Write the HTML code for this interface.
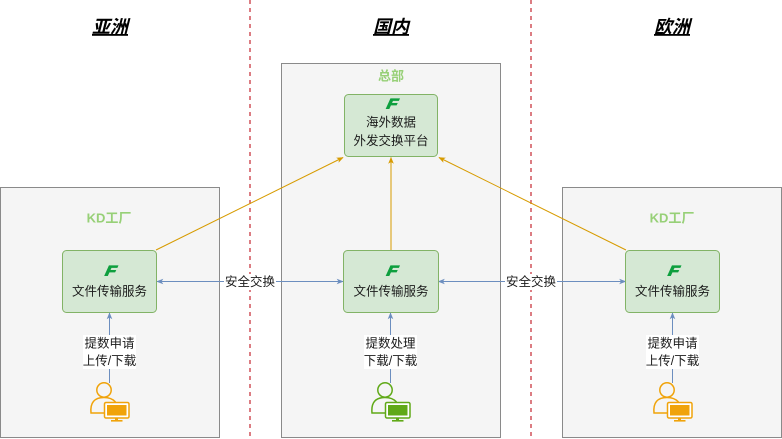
<!DOCTYPE html>
<html><head><meta charset="utf-8"><style>
html,body{margin:0;padding:0;background:#fff;}
svg{display:block;}
text{font-family:"Liberation Sans","Noto Sans CJK SC",sans-serif;}
</style></head><body>
<svg width="782" height="439" viewBox="0 0 782 439" xmlns="http://www.w3.org/2000/svg">
<defs>
<marker id="ab" viewBox="0 0 10 10" refX="9" refY="5" markerWidth="7" markerHeight="7" orient="auto-start-reverse" markerUnits="userSpaceOnUse"><path d="M0,1 L10,5 L0,9 L2.5,5 Z" fill="#6c8ebf"/></marker>
<marker id="ao" viewBox="0 0 10 10" refX="9" refY="5" markerWidth="7" markerHeight="7" orient="auto" markerUnits="userSpaceOnUse"><path d="M0,1 L10,5 L0,9 L2.5,5 Z" fill="#d79b00"/></marker>
<g id="flogo">
<text x="0" y="0" font-size="14" font-weight="bold" font-style="italic" fill="#0e9f3e" stroke="#0e9f3e" stroke-width="0.9" text-anchor="middle" transform="skewX(-12) scale(1.25,1)">F</text>
</g>
</defs>

<!-- titles -->
<g font-size="18" font-weight="bold" font-style="italic" text-decoration="underline" text-anchor="middle" fill="#000">
<text x="110" y="33">亚洲</text>
<text x="391" y="33">国内</text>
<text x="672" y="33">欧洲</text>
</g>

<!-- containers -->
<rect x="0.5" y="187.5" width="219" height="250" fill="#f5f5f5" stroke="#8a8a8a"/>
<rect x="281.5" y="63.5" width="219" height="374" fill="#f5f5f5" stroke="#8a8a8a"/>
<rect x="562.5" y="187.5" width="219" height="250" fill="#f5f5f5" stroke="#8a8a8a"/>

<!-- dashed separators -->
<line x1="250" y1="0" x2="250" y2="439" stroke="#d0525a" stroke-width="1.5" stroke-dasharray="4 4"/>
<line x1="531" y1="0" x2="531" y2="439" stroke="#d0525a" stroke-width="1.5" stroke-dasharray="4 4"/>

<!-- container titles -->
<g font-size="13" font-weight="bold" fill="#97d077" text-anchor="middle">
<text x="391" y="80.5">总部</text>
<text x="109" y="222.5">KD工厂</text>
<text x="672" y="222.5">KD工厂</text>
</g>

<!-- orange connectors -->
<line x1="156" y1="250" x2="343" y2="157.5" stroke="#d79b00" stroke-width="1" marker-end="url(#ao)"/>
<line x1="391" y1="250" x2="391" y2="157.5" stroke="#d79b00" stroke-width="1" marker-end="url(#ao)"/>
<line x1="626" y1="250" x2="439" y2="157.5" stroke="#d79b00" stroke-width="1" marker-end="url(#ao)"/>

<!-- blue horizontal connectors -->
<line x1="157" y1="281.5" x2="343" y2="281.5" stroke="#6c8ebf" stroke-width="1" marker-start="url(#ab)" marker-end="url(#ab)"/>
<line x1="438.5" y1="281.5" x2="625.5" y2="281.5" stroke="#6c8ebf" stroke-width="1" marker-start="url(#ab)" marker-end="url(#ab)"/>
<rect x="224" y="274" width="52" height="16" fill="#fff"/>
<rect x="505" y="274" width="52" height="16" fill="#fff"/>
<g font-size="12.5" fill="#1a1a1a" text-anchor="middle">
<text x="250" y="286">安全交换</text>
<text x="531" y="286">安全交换</text>
</g>

<!-- nodes -->
<g fill="#d5e8d4" stroke="#82b366" stroke-width="1">
<rect x="344.5" y="94.5" width="93" height="62" rx="4"/>
<rect x="62.5" y="250.5" width="94" height="62" rx="4"/>
<rect x="343.5" y="250.5" width="95" height="62" rx="4"/>
<rect x="625.5" y="250.5" width="94" height="62" rx="4"/>
</g>
<use href="#flogo" x="0" y="0" transform="translate(391.5,108.5)"/>
<use href="#flogo" transform="translate(110,275.5)"/>
<use href="#flogo" transform="translate(391.5,275.5)"/>
<use href="#flogo" transform="translate(673,275.5)"/>
<g font-size="12.5" fill="#1a1a1a" text-anchor="middle">
<text x="391" y="126.5">海外数据</text>
<text x="391" y="145">外发交换平台</text>
<text x="109.5" y="295.5">文件传输服务</text>
<text x="391" y="295.5">文件传输服务</text>
<text x="672.5" y="295.5">文件传输服务</text>
</g>

<!-- vertical blue connectors -->
<line x1="109.5" y1="383" x2="109.5" y2="313" stroke="#6c8ebf" stroke-width="1" marker-end="url(#ab)"/>
<line x1="390.5" y1="383" x2="390.5" y2="313" stroke="#6c8ebf" stroke-width="1" marker-end="url(#ab)"/>
<line x1="672.5" y1="383" x2="672.5" y2="313" stroke="#6c8ebf" stroke-width="1" marker-end="url(#ab)"/>
<g fill="#fff">
<rect x="83" y="335" width="53" height="34"/>
<rect x="364" y="335" width="53" height="34"/>
<rect x="646" y="335" width="53" height="34"/>
</g>
<g font-size="12.5" fill="#1a1a1a" text-anchor="middle">
<text x="109.5" y="347.5">提数申请</text>
<text x="109.5" y="365">上传/下载</text>
<text x="390.5" y="347.5">提数处理</text>
<text x="390.5" y="365">下载/下载</text>
<text x="672.5" y="347.5">提数申请</text>
<text x="672.5" y="365">上传/下载</text>
</g>

<!-- person icons -->
<g transform="translate(109.5,0)" stroke="#f0a30a" fill="none" stroke-width="1.5">
<circle cx="-5.5" cy="390" r="7.2"/>
<path d="M-5,413 L-18.5,413 Q-20,397.5 -5.5,397.5 Q2,397.5 6,402"/>
<rect x="-5" y="402.5" width="24.5" height="15.5" rx="1.5" fill="#fff"/>
<rect x="-2.5" y="405" width="19.5" height="10.5" fill="#f0a30a" stroke="none"/>
<rect x="5.5" y="418" width="3" height="2.5" fill="#f0a30a" stroke="none"/>
<rect x="1.5" y="420" width="11.5" height="1.6" fill="#f0a30a" stroke="none"/>
</g>
<g transform="translate(672.5,0)" stroke="#f0a30a" fill="none" stroke-width="1.5">
<circle cx="-5.5" cy="390" r="7.2"/>
<path d="M-5,413 L-18.5,413 Q-20,397.5 -5.5,397.5 Q2,397.5 6,402"/>
<rect x="-5" y="402.5" width="24.5" height="15.5" rx="1.5" fill="#fff"/>
<rect x="-2.5" y="405" width="19.5" height="10.5" fill="#f0a30a" stroke="none"/>
<rect x="5.5" y="418" width="3" height="2.5" fill="#f0a30a" stroke="none"/>
<rect x="1.5" y="420" width="11.5" height="1.6" fill="#f0a30a" stroke="none"/>
</g>
<g transform="translate(390.5,0)" stroke="#60a917" fill="none" stroke-width="1.5">
<circle cx="-5.5" cy="390" r="7.2"/>
<path d="M-5,413 L-18.5,413 Q-20,397.5 -5.5,397.5 Q2,397.5 6,402"/>
<rect x="-5" y="402.5" width="24.5" height="15.5" rx="1.5" fill="#fff"/>
<rect x="-2.5" y="405" width="19.5" height="10.5" fill="#60a917" stroke="none"/>
<rect x="5.5" y="418" width="3" height="2.5" fill="#60a917" stroke="none"/>
<rect x="1.5" y="420" width="11.5" height="1.6" fill="#60a917" stroke="none"/>
</g>
</svg>
</body></html>
